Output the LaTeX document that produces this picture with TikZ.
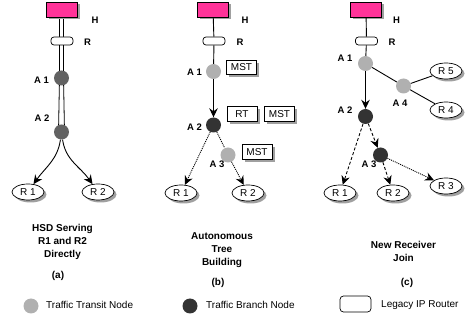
\documentclass[tikz,border=0pt]{standalone}
\usepackage{fontspec}
\setmainfont{Liberation Sans}
\usetikzlibrary{arrows.meta,shapes.geometric,shadows,backgrounds,calc}
\definecolor{hostpink}{HTML}{FF3399}
\definecolor{midgray}{HTML}{626262}
\definecolor{litegray}{HTML}{B0B0B0}
\definecolor{darkgray}{HTML}{333333}
\definecolor{shadowgray}{HTML}{A0A0A0}
\begin{document}
\begin{tikzpicture}[x=1pt,y=1pt,
  dropsh/.style={drop shadow={shadow xshift=2.5pt,shadow yshift=-2.5pt,fill=shadowgray,opacity=1}},
  host/.style={draw,line width=0.6pt,fill=hostpink,minimum width=31pt,minimum height=15pt,inner sep=0pt,dropsh},
  router/.style={draw,line width=0.7pt,fill=white,rounded corners=3pt,minimum width=22pt,minimum height=8pt,inner sep=0pt},
  recv/.style={ellipse,draw,line width=0.7pt,fill=white,minimum width=32pt,minimum height=16pt,inner sep=0pt,font=\fontsize{10}{11}\selectfont,dropsh},
  tagbox/.style={draw,line width=0.6pt,fill=white,minimum width=30pt,minimum height=14.5pt,inner sep=0pt,font=\fontsize{10}{11}\selectfont,dropsh},
  lbl/.style={font=\bfseries\fontsize{9.5}{10}\selectfont,inner sep=0pt},
  captext/.style={font=\bfseries\fontsize{10}{13}\selectfont,align=center,inner sep=0pt},
  legtext/.style={font=\fontsize{10}{12}\selectfont,anchor=west,inner sep=0pt},
  dot/.style={circle,minimum size=15pt,inner sep=0pt},
  middot/.style={dot,fill=midgray},
  transit/.style={dot,fill=litegray},
  branch/.style={dot,fill=darkgray},
  conn/.style={line width=0.9pt},
  rail/.style={line width=0.8pt},
  arr/.style={-{Stealth[length=9pt,width=8.5pt,inset=3pt]}},
  dotline/.style={dash pattern=on 1pt off 1pt},
  dashline/.style={dash pattern=on 3pt off 2pt}]
\useasboundingbox (0,0) rectangle (466,-320);

% ---------------- panel (a)
\node[host] (Ha) at (61.5,-9.5) {};
\node[router] (Ra) at (62,-41) {};
\node[middot] (A1a) at (61.5,-78) {};
\node[middot] (A2a) at (61.5,-132) {};
\node[recv] (R1a) at (28,-192) {R 1};
\node[recv] (R2a) at (98,-192) {R 2};
\node[lbl] (HaL) at (95,-20) {H};
\node[lbl] (RaL) at (87.5,-42) {R};
\node[lbl] (A1aL) at (41.5,-80) {A 1};
\node[lbl] (A2aL) at (42,-118) {A 2};
\begin{scope}[on background layer]
  \draw[rail] ($(Ha.south)+(-2,0)$) -- ($(A1a.center)+(-2,0)$);
  \draw[rail] ($(Ha.south)+(2,0)$) -- ($(A1a.center)+(2,0)$);
  \draw[rail] ($(A1a.center)+(-2,0)$) -- ($(A2a.center)+(-3,0)$);
  \draw[rail] ($(A1a.center)+(2,0)$) -- ($(A2a.center)+(3,0)$);
\end{scope}
\draw[conn,arr] (A2a) to[out=-98,in=55] (R1a);
\draw[conn,arr] (A2a) to[out=-82,in=125] (R2a);
\node[captext] (capa) at (62.5,-242) {HSD Serving\\R1 and R2\\Directly};
\node[captext] (laba) at (58,-276) {(a)};

% ---------------- panel (b)
\node[host] (Hb) at (213,-9.5) {};
\node[router] (Rb) at (214,-41) {};
\node[transit] (A1b) at (213.5,-71.5) {};
\node[branch] (A2b) at (213.5,-125) {};
\node[transit] (A3b) at (228,-155) {};
\node[recv] (R1b) at (181,-193) {R 1};
\node[recv] (R2b) at (248,-193) {R 2};
\node[tagbox] (M1b) at (241.5,-67.5) {MST};
\node[tagbox] (RTb) at (242,-114) {RT};
\node[tagbox] (M2b) at (279.5,-114) {MST};
\node[tagbox] (M3b) at (257,-152) {MST};
\node[lbl] (HbL) at (245,-20) {H};
\node[lbl] (RbL) at (240,-42) {R};
\node[lbl] (A1bL) at (194.5,-72) {A 1};
\node[lbl] (A2bL) at (194.5,-127) {A 2};
\node[lbl] (A3bL) at (217,-164) {A 3};
\draw[conn] (Hb) -- (Rb);
\draw[conn] (Rb) -- (A1b);
\draw[conn,arr] (A1b) -- (A2b);
\draw[conn,dotline,arr] (A2b) -- (R1b);
\draw[conn,dotline] (A2b) -- (A3b);
\draw[conn,dotline,arr] (A3b) -- (R2b);
\node[captext] (capb) at (222,-250) {Autonomous\\Tree\\Building};
\node[captext] (labb) at (218,-283) {(b)};

% ---------------- panel (c)
\node[host] (Hc) at (366,-9.5) {};
\node[router] (Rc) at (366.5,-41) {};
\node[transit] (A1c) at (365.5,-63.5) {};
\node[transit] (A4c) at (403.5,-86) {};
\node[branch] (A2c) at (365.5,-116.5) {};
\node[branch] (A3c) at (380.5,-155) {};
\node[recv] (R5c) at (446,-71) {R 5};
\node[recv] (R4c) at (446,-110) {R 4};
\node[recv] (R1c) at (340,-193) {R 1};
\node[recv] (R2c) at (393,-193) {R 2};
\node[recv] (R3c) at (446,-186) {R 3};
\node[lbl] (HcL) at (396.5,-20) {H};
\node[lbl] (RcL) at (392,-42) {R};
\node[lbl] (A1cL) at (345,-58) {A 1};
\node[lbl] (A2cL) at (345,-110) {A 2};
\node[lbl] (A4cL) at (400,-103) {A 4};
\node[lbl] (A3cL) at (369,-164) {A 3};
\draw[conn] (Hc) -- (Rc);
\draw[conn] (Rc) -- (A1c);
\draw[conn] (A1c) -- (A4c);
\draw[conn] (A4c) -- (R5c);
\draw[conn] (A4c) -- (R4c);
\draw[conn,arr] (A1c) -- (A2c);
\draw[conn,dashline,arr] (A2c) -- (R1c);
\draw[conn,dashline,arr] (A2c) -- (A3c);
\draw[conn,dashline,arr] (A3c) -- (R2c);
\draw[conn,dotline,arr] (A3c) -- (R3c);
\node[captext] (capc) at (403.5,-251) {New Receiver\\Join};
\node[captext] (labc) at (407,-283) {(c)};

% ---------------- legend
\node[transit] (legT) at (31,-306) {};
\node[legtext] (legTt) at (46,-305) {Traffic Transit Node};
\node[branch] (legB) at (190,-306) {};
\node[legtext] (legBt) at (206,-305) {Traffic Branch Node};
\node[draw,line width=0.7pt,rounded corners=3.5pt,minimum width=31pt,minimum height=16pt,inner sep=0pt] (legR) at (355.5,-304) {};
\node[legtext] (legRt) at (381,-305) {Legacy IP Router};
\end{tikzpicture}
\end{document}
